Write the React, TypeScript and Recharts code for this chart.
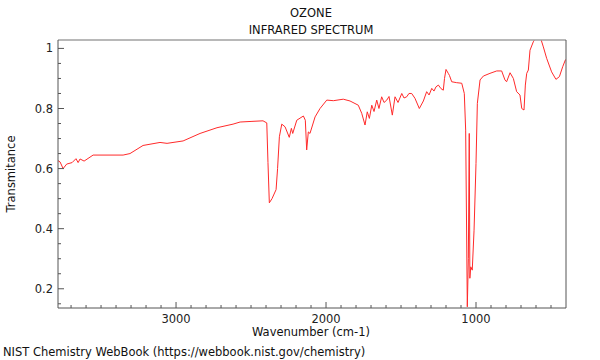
import React from "react";
import { LineChart, Line, XAxis, YAxis } from "recharts";

// wavenumber (cm-1) and transmittance
const WAVENUMBER = [
  3791, 3773, 3753, 3729, 3693, 3667, 3653, 3640, 3613, 3553, 3353, 3307, 3220,
  3107, 3060, 2953, 2840, 2727, 2620, 2573, 2500, 2420, 2395, 2387, 2378, 2360,
  2333, 2323, 2311, 2295, 2273, 2245, 2231, 2222, 2195, 2151, 2138, 2129, 2118,
  2107, 2073, 2040, 1995, 1951, 1885, 1840, 1785, 1762, 1740, 1725, 1711, 1695,
  1680, 1662, 1647, 1629, 1613, 1595, 1580, 1558, 1540, 1520, 1495, 1480, 1462,
  1447, 1429, 1407, 1378, 1351, 1329, 1313, 1295, 1280, 1267, 1251, 1233, 1218,
  1210, 1200, 1185, 1177, 1162, 1129, 1095, 1078, 1069, 1058, 1051, 1045, 1041,
  1035, 1025, 1013, 1000, 991, 973, 951, 907, 862, 829, 807, 796, 773, 751, 729,
  707, 695, 680, 671, 662, 651, 640, 618, 596, 573, 551, 529, 496, 467, 444, 422,
  403,
];
const TRANSMITTANCE = [
  0.628, 0.622, 0.6, 0.615, 0.62, 0.633, 0.62, 0.632, 0.625, 0.645, 0.645,
  0.65, 0.677, 0.687, 0.684, 0.692, 0.717, 0.736, 0.748, 0.755, 0.757, 0.759,
  0.752, 0.62, 0.486, 0.5, 0.53, 0.6, 0.706, 0.748, 0.739, 0.704, 0.734, 0.717,
  0.761, 0.775, 0.761, 0.662, 0.722, 0.717, 0.772, 0.8, 0.828, 0.826, 0.831,
  0.825, 0.811, 0.784, 0.745, 0.789, 0.767, 0.811, 0.79, 0.828, 0.8, 0.839,
  0.82, 0.828, 0.84, 0.778, 0.839, 0.82, 0.85, 0.835, 0.839, 0.85, 0.85, 0.834,
  0.8, 0.825, 0.856, 0.845, 0.867, 0.858, 0.872, 0.878, 0.866, 0.861, 0.9, 0.93,
  0.917, 0.91, 0.889, 0.886, 0.884, 0.85, 0.728, 0.14, 0.3, 0.717, 0.235, 0.273,
  0.262, 0.395, 0.617, 0.817, 0.895, 0.908, 0.917, 0.925, 0.925, 0.895, 0.889,
  0.919, 0.9, 0.856, 0.845, 0.8, 0.795, 0.878, 0.917, 0.928, 0.994, 1.022, 1.04,
  1.04, 1.005, 0.967, 0.922, 0.897, 0.906, 0.939, 0.963,
];

const X_TICKS = [
  3700, 3600, 3500, 3400, 3300, 3200, 3100, 3000, 2900, 2800, 2700, 2600, 2500,
  2400, 2300, 2200, 2100, 2000, 1900, 1800, 1700, 1600, 1500, 1400, 1300, 1200,
  1100, 1000, 900, 800, 700, 600, 500,
];
const X_LABELS = [3000, 2000, 1000];
const Y_TICKS = [
  0.15, 0.2, 0.25, 0.3, 0.35, 0.4, 0.45, 0.5, 0.55, 0.6, 0.65, 0.7, 0.75, 0.8,
  0.85, 0.9, 0.95, 1,
];
const Y_LABELS = [0.2, 0.4, 0.6, 0.8, 1];

const data = WAVENUMBER.map((w, i) => ({ w, t: TRANSMITTANCE[i] }));

const FONT = "DejaVu Sans";
const FS = 11.5;
const AXIS = "#555";

const XTick = (props: any) => {
  const { x, y, payload } = props;
  const major = X_LABELS.includes(payload.value);
  return (
    <g>
      <line x1={x} x2={x} y1={y} y2={y - (major ? 6 : 3)} stroke={AXIS} />
      {major && (
        <text x={x} y={y + 15} textAnchor="middle" fontSize={FS} fontFamily={FONT} fill="#222">
          {payload.value}
        </text>
      )}
    </g>
  );
};

const YTick = (props: any) => {
  const { x, y, payload } = props;
  const major = Y_LABELS.some((v) => Math.abs(v - payload.value) < 1e-6);
  return (
    <g>
      <line x1={x} x2={x + (major ? 6 : 3)} y1={y} y2={y} stroke={AXIS} />
      {major && (
        <text x={x - 5} y={y + 4} textAnchor="end" fontSize={FS} fontFamily={FONT} fill="#222">
          {String(payload.value)}
        </text>
      )}
    </g>
  );
};

export default function App() {
  return (
    <div style={{ position: "fixed", left: 0, top: 0, width: 600, height: 360, background: "#fff" }}>
      <LineChart
        width={600}
        height={360}
        data={data}
        margin={{ top: 39, right: 33, bottom: 0, left: 1 }}
      >
        <XAxis
          dataKey="w"
          type="number"
          domain={[400, 3787]}
          reversed
          allowDataOverflow
          ticks={X_TICKS}
          interval={0}
          height={52}
          tickSize={0}
          tickMargin={0}
          tick={<XTick />}
          stroke={AXIS}
        />
        <XAxis
          xAxisId="top"
          orientation="top"
          type="number"
          domain={[0, 1]}
          height={1}
          tick={false}
          tickLine={false}
          stroke="#a0a0a0"
          strokeWidth={1.5}
        />
        <YAxis
          type="number"
          domain={[0.136, 1.028]}
          allowDataOverflow
          ticks={Y_TICKS}
          interval={0}
          width={57}
          tickSize={0}
          tickMargin={0}
          tick={<YTick />}
          stroke={AXIS}
        />
        <YAxis
          yAxisId="right"
          orientation="right"
          type="number"
          domain={[0, 1]}
          width={1}
          tick={false}
          tickLine={false}
          stroke={AXIS}
        />
        <Line
          dataKey="t"
          stroke="#ff2a2a"
          strokeWidth={1}
          dot={false}
          isAnimationActive={false}
        />
      </LineChart>
      <svg
        width={600}
        height={360}
        style={{ position: "absolute", left: 0, top: 0, pointerEvents: "none" }}
        fontFamily={FONT}
        fontSize={FS}
      >
        <text x={311} y={17} textAnchor="middle" fill="#111">OZONE</text>
        <text x={311} y={34} textAnchor="middle" fill="#111">INFRARED SPECTRUM</text>
        <text x={311} y={336} textAnchor="middle" fill="#111">Wavenumber (cm-1)</text>
        <text x={15} y={174} textAnchor="middle" fill="#111" transform="rotate(-90 15 174)">
          Transmitance
        </text>
        <text x={3} y={356} fill="#111">NIST Chemistry WebBook (https://webbook.nist.gov/chemistry)</text>
      </svg>
    </div>
  );
}
